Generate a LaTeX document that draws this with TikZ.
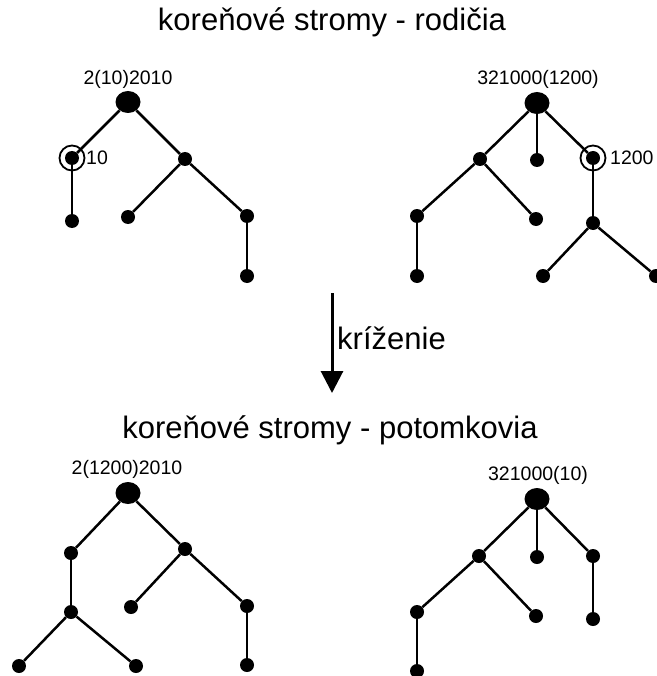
\documentclass[tikz,border=0pt]{standalone}
\usepackage{fontspec}
\setmainfont{Liberation Sans}
\usetikzlibrary{arrows.meta,shapes.geometric}

\tikzset{
    dot/.style={circle, fill=black, inner sep=0pt, minimum size=14pt},
    rootdot/.style={ellipse, fill=black, inner sep=0pt, minimum width=25pt, minimum height=22pt},
    ring/.style={circle, draw, line width=1.8pt, inner sep=0pt, minimum size=25pt},
    edge/.style={line width=2.5pt},
    title/.style={font=\fontsize{31}{36}\selectfont},
    tag/.style={font=\fontsize{19.5}{22}\selectfont, inner sep=0pt}
}

\begin{document}
\begin{tikzpicture}[x=1pt, y=-1pt]
        \useasboundingbox (0,0) rectangle (656,676);

        \node[title] (t1) at (332,22) {koreňové stromy - rodičia};
        \node[title] (t2) at (330,430) {koreňové stromy - potomkovia};

        % rodic 1
        \node[rootdot] (a) at (128,102) {};
        \node[dot] (a1) at (72,158) {};
        \node[dot] (a11) at (72,221) {};
        \node[dot] (a2) at (185,159) {};
        \node[dot] (a21) at (128,217) {};
        \node[dot] (a22) at (247,216) {};
        \node[dot] (a221) at (247,276) {};
        \node[ring] (ra) at (a1) {};
        \node[tag] (la) at (128,79) {2(10)2010};
        \node[tag, anchor=west] (ka) at (86,158) {10};

        \draw[edge] (a) -- (a1);
        \draw[edge] (a1) -- (a11);
        \draw[edge] (a) -- (a2);
        \draw[edge] (a2) -- (a21);
        \draw[edge] (a2) -- (a22);
        \draw[edge] (a22) -- (a221);

        % rodic 2
        \node[rootdot] (b) at (537,103) {};
        \node[dot] (b1) at (480,159) {};
        \node[dot] (b2) at (537,160) {};
        \node[dot] (b3) at (593,158) {};
        \node[dot] (b11) at (417,216) {};
        \node[dot] (b12) at (536,219) {};
        \node[dot] (b111) at (417,276) {};
        \node[dot] (b31) at (593,223) {};
        \node[dot] (b311) at (543,276) {};
        \node[dot] (b312) at (656,276) {};
        \node[ring] (rb) at (b3) {};
        \node[tag] (lb) at (538,79) {321000(1200)};
        \node[tag, anchor=west] (kb) at (610,158) {1200};

        \draw[edge] (b) -- (b1);
        \draw[edge] (b) -- (b2);
        \draw[edge] (b) -- (b3);
        \draw[edge] (b1) -- (b11);
        \draw[edge] (b1) -- (b12);
        \draw[edge] (b11) -- (b111);
        \draw[edge] (b3) -- (b31);
        \draw[edge] (b31) -- (b311);
        \draw[edge] (b31) -- (b312);

        % krizenie
        \coordinate (s) at (332,293);
        \coordinate (e) at (332,393);
        \draw[line width=3pt, -{Triangle[width=22pt, length=22pt]}] (s) -- (e);
        \node[title, anchor=west, inner sep=0pt] (kr) at (337,338) {kríženie};

        % potomok 1
        \node[rootdot] (c) at (128,493) {};
        \node[dot] (c1) at (71,553) {};
        \node[dot] (c11) at (71,612) {};
        \node[dot] (c111) at (19,666) {};
        \node[dot] (c112) at (136,666) {};
        \node[dot] (c2) at (185,549) {};
        \node[dot] (c21) at (131,607) {};
        \node[dot] (c22) at (247,606) {};
        \node[dot] (c221) at (247,665) {};
        \node[tag] (lc) at (127,469) {2(1200)2010};

        \draw[edge] (c) -- (c1);
        \draw[edge] (c1) -- (c11);
        \draw[edge] (c11) -- (c111);
        \draw[edge] (c11) -- (c112);
        \draw[edge] (c) -- (c2);
        \draw[edge] (c2) -- (c21);
        \draw[edge] (c2) -- (c22);
        \draw[edge] (c22) -- (c221);

        % potomok 2
        \node[rootdot] (d) at (537,499) {};
        \node[dot] (d1) at (479,556) {};
        \node[dot] (d2) at (537,557) {};
        \node[dot] (d3) at (593,556) {};
        \node[dot] (d11) at (417,612) {};
        \node[dot] (d12) at (536,616) {};
        \node[dot] (d111) at (417,671) {};
        \node[dot] (d31) at (593,619) {};
        \node[tag] (ld) at (538,475) {321000(10)};

        \draw[edge] (d) -- (d1);
        \draw[edge] (d) -- (d2);
        \draw[edge] (d) -- (d3);
        \draw[edge] (d1) -- (d11);
        \draw[edge] (d1) -- (d12);
        \draw[edge] (d11) -- (d111);
        \draw[edge] (d3) -- (d31);
\end{tikzpicture}
\end{document}
